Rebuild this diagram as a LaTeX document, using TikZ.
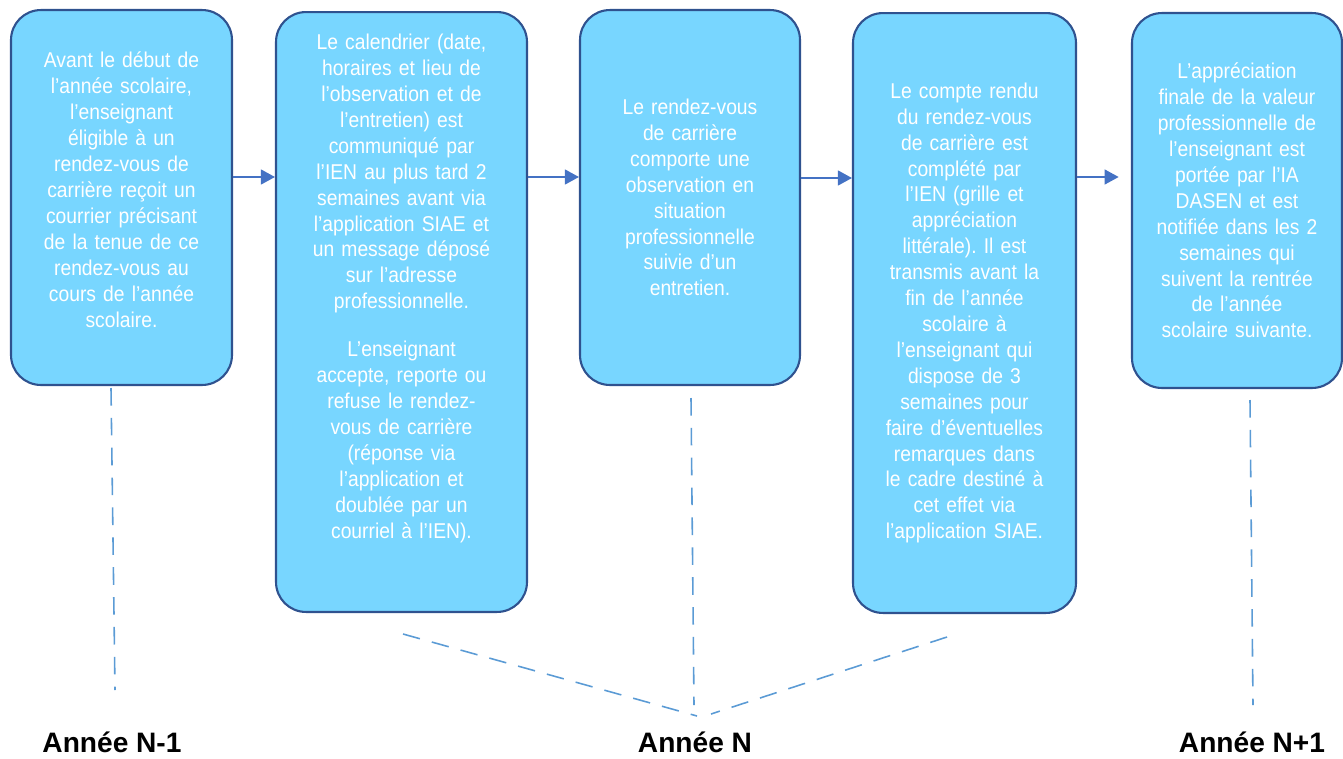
\documentclass[tikz,border=0pt]{standalone}
\usepackage{fontspec}
\setmainfont{Liberation Sans}
\newfontfamily\boxfont[FakeStretch=0.9]{Liberation Sans}
\usetikzlibrary{arrows.meta}
\definecolor{boxfill}{HTML}{78D6FF}
\definecolor{boxline}{HTML}{2F528F}
\definecolor{arrowblue}{HTML}{4472C4}
\definecolor{dashblue}{HTML}{5B9BD5}
\frenchspacing
\begin{document}
\begin{tikzpicture}[x=0.02cm, y=-0.02cm,
    stepbox/.style={draw=boxline, line width=1.2pt, fill=boxfill, rounded corners=17pt,
      text=white, inner sep=0pt, align=center, font=\boxfont\fontsize{12.2pt}{14.75pt}\selectfont},
    arr/.style={arrowblue, line width=0.9pt, -{Triangle[length=8pt, width=8.5pt]}},
    yearline/.style={dashblue, line width=0.9pt, dash pattern=on 10pt off 7pt},
    year/.style={anchor=base, inner sep=1pt, font=\fontsize{16pt}{19pt}\selectfont\bfseries}]
  \useasboundingbox (0,0) rectangle (1343,758);

  % the five steps
  \node [stepbox, minimum width=4.42cm, minimum height=7.5cm, text width=4.2cm] (b1) at (121.5,197.5)
    {Avant le début de\\ l’année scolaire,\\ l’enseignant\\ éligible à un\\ rendez-vous de\\
     carrière reçoit un\\ courrier précisant\\ de la tenue de ce\\ rendez-vous au\\
     cours de l’année\\ scolaire.\\[-5.7pt]\mbox{}};
  \node [stepbox, minimum width=5.02cm, minimum height=12cm, text width=4.8cm] (b2) at (401.5,312)
    {Le calendrier (date,\\ horaires et lieu de\\ l’observation et de\\ l’entretien) est\\
     communiqué par\\ l’IEN au plus tard 2\\ semaines avant via\\ l’application SIAE et\\
     un message déposé\\ sur l’adresse\\ professionnelle.\\[12.5pt]
     L’enseignant\\ accepte, reporte ou\\ refuse le rendez-\\ vous de carrière\\
     (réponse via\\ l’application et\\ doublée par un\\ courriel à l’IEN).\\[14.75pt]\mbox{}};
  \node [stepbox, minimum width=4.4cm, minimum height=7.5cm, text width=4.2cm] (b3) at (690,197.5)
    {Le rendez-vous\\ de carrière\\ comporte une\\ observation en\\ situation\\
     professionnelle\\ suivie d’un\\ entretien.};
  \node [stepbox, minimum width=4.46cm, minimum height=12cm, text width=4.2cm] (b4) at (964.5,313)
    {Le compte rendu\\ du rendez-vous\\ de carrière est\\ complété par\\ l’IEN (grille et\\
     appréciation\\ littérale). Il est\\ transmis avant la\\ fin de l’année\\ scolaire à\\
     l’enseignant qui\\ dispose de 3\\ semaines pour\\ faire d’éventuelles\\ remarques dans\\
     le cadre destiné à\\ cet effet via\\ l’application SIAE.};
  \node [stepbox, minimum width=4.2cm, minimum height=7.5cm, text width=4cm] (b5) at (1237,200.5)
    {L’appréciation\\ finale de la valeur\\ professionnelle de\\ l’enseignant est\\
     portée par l’IA\\ DASEN et est\\ notifiée dans les 2\\ semaines qui\\
     suivent la rentrée\\ de l’année\\ scolaire suivante.};

  % arrows between steps
  \draw [arr] (b1.east |- 0,177) -- (b2.west |- 0,177);
  \draw [arr] (b2.east |- 0,177) -- (b3.west |- 0,177);
  \draw [arr] (b3.east |- 0,178) -- (b4.west |- 0,178);
  \draw [arr, shorten >=7pt] (b4.east |- 0,177) -- (b5.west |- 0,177);

  % years
  \coordinate (p1) at (111,388);  \coordinate (q1) at (115,690);
  \coordinate (p2) at (691,398);  \coordinate (q2) at (694,705);
  \coordinate (p3) at (1250,400); \coordinate (q3) at (1253,705);
  \coordinate (l2) at (403,634);  \coordinate (r2) at (947,637);
  \coordinate (m2) at (697,716);  \coordinate (n2) at (711,714);
  \draw [yearline] (p1) -- (q1);
  \draw [yearline] (p2) -- (q2);
  \draw [yearline] (p3) -- (q3);
  \draw [yearline] (l2) -- (m2);
  \draw [yearline] (r2) -- (n2);

  \node [year] (y1) at (112,752) {Année N-1};
  \node [year] (y2) at (695,752) {Année N};
  \node [year] (y3) at (1252,752) {Année N+1};
\end{tikzpicture}
\end{document}
